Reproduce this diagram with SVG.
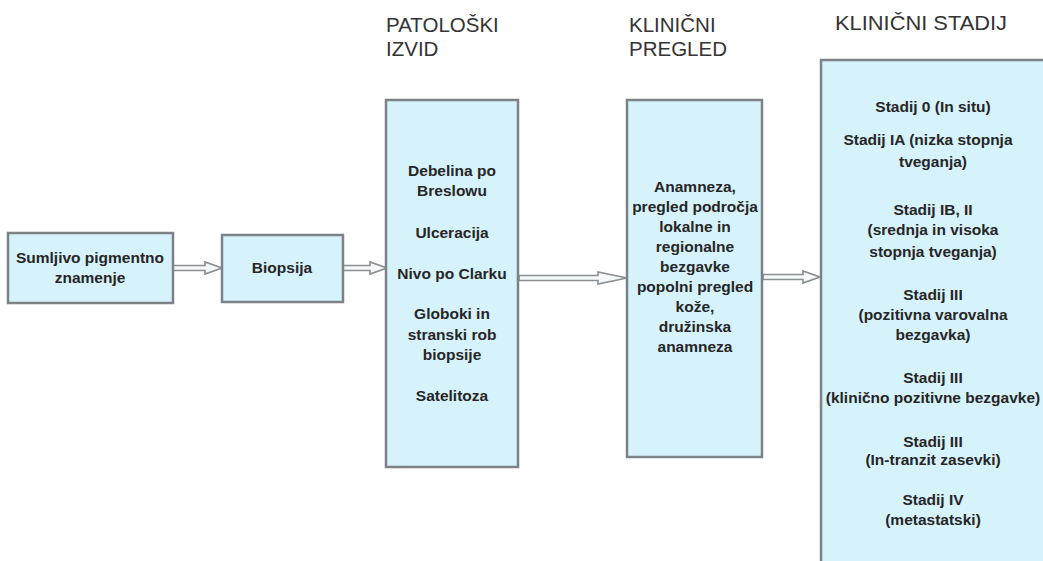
<svg xmlns="http://www.w3.org/2000/svg" width="1043" height="561" viewBox="0 0 1043 561">
<style>
.box{fill:#d6f2fb;stroke:#7d8287;stroke-width:2.5}
.t{font-family:"Liberation Sans",Arial,sans-serif;font-size:15.5px;font-weight:bold;fill:#262626;text-anchor:middle}
.h{font-family:"Liberation Sans",Arial,sans-serif;font-size:20.5px;fill:#333}
.arr{fill:#f4f8f8;stroke:#8a8e90;stroke-width:1.6;stroke-linejoin:miter}
</style>
<rect width="1043" height="561" fill="#ffffff"/>
<g id="titles">
<text class="h" x="386" y="32">PATOLOŠKI</text>
<text class="h" x="386" y="56">IZVID</text>
<text class="h" x="629" y="32">KLINIČNI</text>
<text class="h" x="629" y="56">PREGLED</text>
<text class="h" x="835" y="30" textLength="172" lengthAdjust="spacingAndGlyphs">KLINIČNI STADIJ</text>
</g>
<g id="connectors">
<path class="arr" d="M173,265.5 H205 V262 L222,268 L205,274 V270.5 H173 Z"/>
<path class="arr" d="M343,265.5 H370 V262 L387,268 L370,274 V270.5 H343 Z"/>
<path class="arr" d="M519,275.5 H598 V272 L627,278 L598,284 V280.5 H519 Z"/>
<path class="arr" d="M763,274.5 H803 V271 L820,277 L803,283 V279.5 H763 Z"/>
</g>
<g id="node-sumljivo">
<rect class="box" x="8" y="233" width="165" height="70"/>
<text class="t" x="90" y="263">Sumljivo pigmentno</text>
<text class="t" x="90" y="283">znamenje</text>
</g>
<g id="node-biopsija">
<rect class="box" x="222" y="235" width="121" height="67"/>
<text class="t" x="282" y="273">Biopsija</text>
</g>
<g id="node-patoloski">
<rect class="box" x="386" y="100" width="132" height="367"/>
<text class="t" x="452" y="176">Debelina po</text>
<text class="t" x="452" y="196">Breslowu</text>
<text class="t" x="452" y="238">Ulceracija</text>
<text class="t" x="452" y="279">Nivo po Clarku</text>
<text class="t" x="452" y="319">Globoki in</text>
<text class="t" x="452" y="340">stranski rob</text>
<text class="t" x="452" y="360">biopsije</text>
<text class="t" x="452" y="401">Satelitoza</text>
</g>
<g id="node-klinicni-pregled">
<rect class="box" x="627" y="100" width="135" height="357"/>
<text class="t" x="695" y="192">Anamneza,</text>
<text class="t" x="695" y="212">pregled področja</text>
<text class="t" x="695" y="232">lokalne in</text>
<text class="t" x="695" y="252">regionalne</text>
<text class="t" x="695" y="272">bezgavke</text>
<text class="t" x="695" y="292">popolni pregled</text>
<text class="t" x="695" y="312">kože,</text>
<text class="t" x="695" y="332">družinska</text>
<text class="t" x="695" y="352">anamneza</text>
</g>
<g id="node-klinicni-stadij">
<rect class="box" x="821" y="60" width="230" height="510"/>
<text class="t" x="933" y="112">Stadij 0 (In situ)</text>
<text class="t" x="928" y="145">Stadij IA (nizka stopnja</text>
<text class="t" x="933" y="167">tveganja)</text>
<text class="t" x="933" y="215">Stadij IB, II</text>
<text class="t" x="933" y="235">(srednja in visoka</text>
<text class="t" x="933" y="257">stopnja tveganja)</text>
<text class="t" x="933" y="300">Stadij III</text>
<text class="t" x="933" y="320">(pozitivna varovalna</text>
<text class="t" x="933" y="340">bezgavka)</text>
<text class="t" x="933" y="383">Stadij III</text>
<text class="t" x="933" y="403">(klinično pozitivne bezgavke)</text>
<text class="t" x="933" y="447">Stadij III</text>
<text class="t" x="933" y="465">(In-tranzit zasevki)</text>
<text class="t" x="933" y="505">Stadij IV</text>
<text class="t" x="933" y="525">(metastatski)</text>
</g>
</svg>
